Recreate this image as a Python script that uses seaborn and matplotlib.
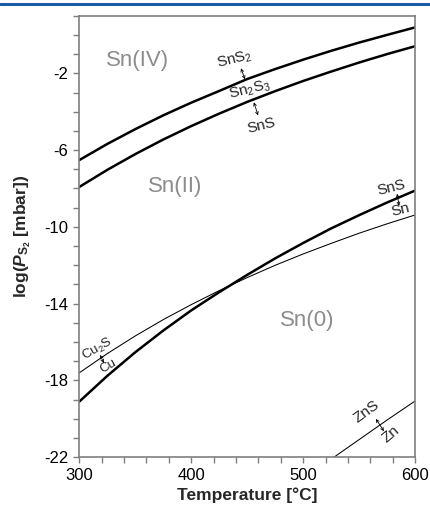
import numpy as np
import pandas as pd
import seaborn as sns
import matplotlib
matplotlib.use("Agg")
import matplotlib.pyplot as plt
from matplotlib.ticker import MultipleLocator, FixedLocator
from matplotlib.lines import Line2D

# ---- data ----
temperature = [300, 325, 350, 375, 400, 425, 450, 475, 500, 525, 550, 575, 600]
sns2_sn2s3 = [-6.52, -5.68, -4.91, -4.19, -3.53, -2.92, -2.30, -1.78, -1.29, -0.83, -0.40, 0.00, 0.39]
sn2s3_sns = [-7.92, -7.03, -6.21, -5.45, -4.75, -4.10, -3.49, -2.93, -2.40, -1.91, -1.44, -1.00, -0.59]
sns_sn = [-19.10, -17.76, -16.53, -15.40, -14.35, -13.40, -12.50, -11.64, -10.84, -10.08, -9.39, -8.73, -8.11]
cu2s_cu = [-17.60, -16.60, -15.68, -14.83, -14.05, -13.32, -12.64, -12.00, -11.41, -10.86, -10.33, -9.84, -9.38]
zn_temperature = [525, 550, 575, 600]
zns_zn = [-22.10, -21.08, -20.06, -19.07]

y_tick_labels = [-22, -18, -14, -10, -6, -2]
x_tick_labels = [300, 400, 500, 600]

sns.set_style("ticks")
plt.rcParams["font.family"] = ["Liberation Sans", "DejaVu Sans"]
plt.rcParams["mathtext.fontset"] = "custom"
plt.rcParams["mathtext.rm"] = "Liberation Sans"
plt.rcParams["mathtext.it"] = "Liberation Sans:italic:bold"
plt.rcParams["mathtext.bf"] = "Liberation Sans:bold"
plt.rcParams["axes.unicode_minus"] = False

fig = plt.figure(figsize=(4.3, 5.2), dpi=100)
ax = fig.add_axes([0.1844, 0.1206, 0.7808, 0.8492])

main = pd.DataFrame({"T": temperature * 4,
                     "logP": sns2_sn2s3 + sn2s3_sns + sns_sn + cu2s_cu,
                     "curve": (["SnS2/Sn2S3"] * 13 + ["Sn2S3/SnS"] * 13 +
                               ["SnS/Sn"] * 13 + ["Cu2S/Cu"] * 13)})
widths = {"SnS2/Sn2S3": 1.8, "Sn2S3/SnS": 1.8, "SnS/Sn": 1.8, "Cu2S/Cu": 0.75}
for name, lw in widths.items():
    sub = main[main["curve"] == name]
    sns.lineplot(data=sub, x="T", y="logP", ax=ax, color="black", lw=lw,
                 legend=False, sort=True, estimator=None)
zn = pd.DataFrame({"T": zn_temperature, "logP": zns_zn})
sns.lineplot(data=zn, x="T", y="logP", ax=ax, color="black", lw=0.75, legend=False, estimator=None)

ax.set_xlim(300, 600)
ax.set_ylim(-22, 1)
ax.xaxis.set_major_locator(FixedLocator(x_tick_labels))
ax.xaxis.set_minor_locator(MultipleLocator(20))
ax.yaxis.set_major_locator(FixedLocator(y_tick_labels))
ax.yaxis.set_minor_locator(MultipleLocator(1))
ax.tick_params(which="both", direction="out", length=4, width=1, color="#7f7f7f",
               labelsize=12, labelcolor="black", pad=4)
for s in ax.spines.values():
    s.set_color("#7f7f7f")
    s.set_linewidth(1.2)

ax.set_xlabel("Temperature [°C]", fontsize=12.5, fontweight="bold", labelpad=3)
ax.set_ylabel(r"log($\mathit{P}_{\mathbf{S}_{\mathbf{2}}}$ [mbar])", fontsize=12.5,
              fontweight="bold", labelpad=8)

gray = "#8c8c8c"
ax.text(352, -1.35, "Sn(IV)", fontsize=16, color=gray, ha="center", va="center")
ax.text(386, -7.9, "Sn(II)", fontsize=16, color=gray, ha="center", va="center")
ax.text(504, -14.9, "Sn(0)", fontsize=16, color=gray, ha="center", va="center")

fs = 11
ax.text(439, -1.30, r"SnS$_\mathregular{2}$", fontsize=fs, rotation=14, ha="center", va="center")
ax.text(452.6, -2.84, r"Sn$_\mathregular{2}$S$_\mathregular{3}$", fontsize=fs, rotation=14, ha="center", va="center")
ax.text(463, -4.72, "SnS", fontsize=fs, rotation=14, ha="center", va="center")
ax.text(579, -7.95, "SnS", fontsize=fs, rotation=14, ha="center", va="center")
ax.text(587, -9.10, "Sn", fontsize=fs, rotation=14, ha="center", va="center")
ax.text(316, -16.36, r"Cu$_\mathregular{2}$S", fontsize=9.5, rotation=30, ha="center", va="center")
ax.text(325.6, -17.25, "Cu", fontsize=9.5, rotation=30, ha="center", va="center")
ax.text(557, -19.6, "ZnS", fontsize=fs, rotation=36, ha="center", va="center")
ax.text(578, -20.8, "Zn", fontsize=fs, rotation=40, ha="center", va="center")

arrows = [((444.5, -1.74), (448, -2.31)),
          ((456, -3.51), (459.7, -4.19)),
          ((584, -8.27), (585.7, -8.9)),
          ((318.5, -16.67), (322, -17.09)),
          ((565, -20.0), (572.2, -20.64))]
for a, b in arrows:
    ax.annotate("", xy=b, xytext=a,
                arrowprops=dict(arrowstyle="<->", lw=0.6, color="black",
                                mutation_scale=5, shrinkA=0, shrinkB=0))

fig.add_artist(Line2D([0, 1], [1 - 4 / 520, 1 - 4 / 520], transform=fig.transFigure,
                      color="#1a5ca6", lw=2.2))

fig.savefig("out.png", dpi=100)
